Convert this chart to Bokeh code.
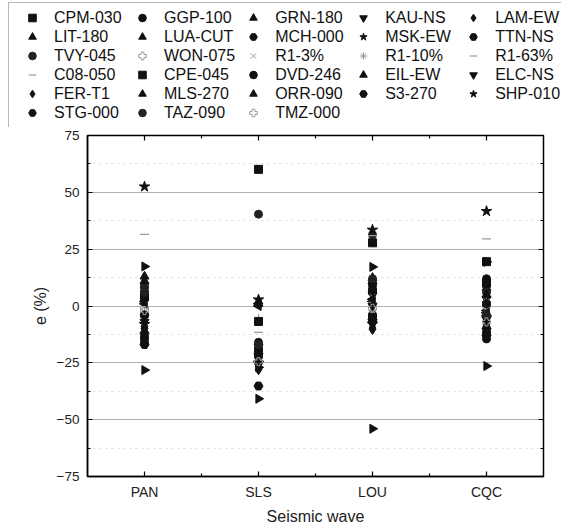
import math
from bokeh.plotting import figure
from bokeh.models import (Range1d, FixedTicker, LinearAxis, Legend, LegendItem,
                          CustomJSTickFormatter)
from bokeh.layouts import column
from bokeh.embed import file_html
from bokeh.resources import INLINE

# ---------------- data ----------------
waves = ["PAN", "SLS", "LOU", "CQC"]
wave_pos = [1, 2, 3, 4]

records = ["CPM-030", "GGP-100", "GRN-180", "KAU-NS", "LAM-EW",
           "LIT-180", "LUA-CUT", "MCH-000", "MSK-EW", "TTN-NS",
           "TVY-045", "WON-075", "R1-3%", "R1-10%", "R1-63%",
           "C08-050", "CPE-045", "DVD-246", "EIL-EW", "ELC-NS",
           "FER-T1", "MLS-270", "ORR-090", "S3-270", "SHP-010",
           "STG-000", "TAZ-090", "TMZ-000"]

# e (%) per record, one list per seismic wave (same order as records)
e_PAN = [5.0, 8.0, 13.0, -5.0, -10.0,
         2.0, 17.4, -14.0, -8.0, -12.0,
         9.0, -1.0, -3.0, 0.0, 31.5,
         -6.0, 4.0, -16.0, 11.0, -7.0,
         -9.0, 1.0, -28.2, -4.0, 52.5,
         -17.0, 6.0, -2.0]
e_SLS = [60.1, -20.0, 1.0, -18.0, -24.0,
         0.0, -40.8, -22.0, 2.8, -35.2,
         40.4, -18.5, -22.5, -20.5, -11.6,
         -5.5, -6.8, -16.0, 2.0, -26.0,
         -28.0, 1.0, -27.0, -19.0, -25.0,
         -21.0, -17.0, -24.5]
e_LOU = [27.8, 10.0, 12.4, 5.0, -3.0,
         2.0, 17.2, 6.0, -8.0, -6.0,
         31.3, 1.0, 4.0, -2.0, 31.0,
         8.0, -5.0, 9.0, 11.0, 0.0,
         -10.3, 3.0, -54.0, 7.0, 33.5,
         -7.0, 12.0, -1.0]
e_CQC = [19.5, 12.0, 8.0, 3.0, -8.0,
         -2.0, 19.4, -12.0, -5.0, -10.0,
         6.0, 0.0, 2.0, -1.0, 29.5,
         4.0, 10.0, -14.5, 5.0, -6.0,
         -9.0, -3.0, -26.4, 1.0, 41.7,
         -13.0, -4.0, -7.0]

# ---------------- styles ----------------
BLK = "#111111"
GRY = "#9a9a9a"
PI = math.pi
def S(marker, size=8, angle=0.0, color=BLK, filled=True, lw=1.0):
    return dict(marker=marker, size=size, angle=angle,
                fill_color=color if filled else None, line_color=color,
                line_width=lw)

styles = {
    "CPM-030": S("square", 8), "GGP-100": S("circle", 8),
    "GRN-180": S("triangle", 9), "KAU-NS": S("inverted_triangle", 9),
    "LAM-EW": S("diamond", 10), "LIT-180": S("triangle", 9, PI / 2),
    "LUA-CUT": S("triangle", 9, -PI / 2), "MCH-000": S("hex", 9, PI / 2),
    "MSK-EW": S("star", 11), "TTN-NS": S("hex", 9),
    "TVY-045": S("circle", 8, color="#222222"),
    "WON-075": S("plus", 8, color=GRY, filled=False),
    "R1-3%": S("x", 8, color=GRY, filled=False),
    "R1-10%": S("asterisk", 8, color=GRY, filled=False),
    "R1-63%": S("dash", 9, color=GRY, filled=False, lw=1.2),
    "C08-050": S("dash", 9, PI / 2, color=GRY, filled=False, lw=1.2),
    "CPE-045": S("square", 8), "DVD-246": S("circle", 8),
    "EIL-EW": S("triangle", 9), "ELC-NS": S("inverted_triangle", 9),
    "FER-T1": S("diamond", 10), "MLS-270": S("triangle", 9, PI / 2),
    "ORR-090": S("triangle", 9, -PI / 2), "S3-270": S("hex", 9, PI / 2),
    "SHP-010": S("star", 11), "STG-000": S("hex", 9),
    "TAZ-090": S("circle", 8, color="#222222"),
    "TMZ-000": S("plus", 8, color=GRY, filled=False),
}

FONT = "Liberation Sans"
PAGE_W = 561
LEG_FIG_H = 127

# ---------------- main figure ----------------
FRAME_TOP = 8          # below the legend strip
FRAME_LEFT = 87
FRAME_H = 341
p = figure(frame_width=456, frame_height=FRAME_H,
           x_range=Range1d(0.5, 4.5), y_range=Range1d(-75, 75),
           toolbar_location=None, output_backend="svg",
           min_border_left=FRAME_LEFT, min_border_right=PAGE_W - FRAME_LEFT - 456,
           min_border_top=FRAME_TOP, min_border_bottom=20)

xa = p.below[0]
ya = p.left[0]

yt = FixedTicker(ticks=[-75, -50, -25, 0, 25, 50, 75],
                 minor_ticks=[-62.5, -37.5, -12.5, 12.5, 37.5, 62.5])
xt = FixedTicker(ticks=wave_pos, minor_ticks=[1.5, 2.5, 3.5])

ya.ticker = yt
xa.ticker = xt
xa.major_label_overrides = {x: w for x, w in zip(wave_pos, waves)}

p.xgrid.visible = False
p.ygrid.ticker = yt
p.ygrid.grid_line_color = "#b0b0b0"
p.ygrid.grid_line_width = 1
p.ygrid.minor_grid_line_color = "#dcdcdc"
p.ygrid.minor_grid_line_dash = "dotted"

p.outline_line_color = "black"
p.outline_line_width = 1.5

blank = CustomJSTickFormatter(code="return ''")
ra = LinearAxis(ticker=yt, formatter=blank, axis_line_color=None)
ta = LinearAxis(ticker=xt, formatter=blank, axis_line_color=None)
p.add_layout(ra, "right")
p.add_layout(ta, "above")

for ax in (xa, ya, ra, ta):
    ax.major_tick_in = 5
    ax.major_tick_out = 0
    ax.minor_tick_in = 3
    ax.minor_tick_out = 0
    ax.major_tick_line_color = "black"
    ax.minor_tick_line_color = "black"
    ax.major_tick_line_width = 1.2
    ax.minor_tick_line_width = 1.2
for ax in (ra, ta):
    ax.major_label_standoff = 0
    ax.major_label_text_font_size = "1px"

for ax in (xa, ya):
    ax.axis_line_color = "black"
    ax.axis_line_width = 1.5
    ax.major_label_text_font = FONT
    ax.major_label_text_color = "#222222"
    ax.axis_label_text_font = FONT
    ax.axis_label_text_font_style = "normal"
    ax.axis_label_text_color = "#222222"
    ax.axis_label_text_font_size = "16px"

ya.axis_label = "e (%)"
ya.major_label_text_font_size = "13.5px"
ya.major_label_standoff = 8
ya.axis_label_standoff = 5
xa.axis_label = "Seismic wave"
xa.major_label_text_font_size = "14px"
xa.major_label_standoff = 7
xa.axis_label_standoff = 5

for i, name in enumerate(records):
    ys = [e_PAN[i], e_SLS[i], e_LOU[i], e_CQC[i]]
    p.scatter(x=wave_pos, y=ys, **styles[name])

# ---------------- legend strip (separate figure, data kept out of view) ----------------
lf = figure(width=PAGE_W, height=LEG_FIG_H,
            x_range=Range1d(0.5, 4.5), y_range=Range1d(1000, 1001),
            toolbar_location=None, output_backend="svg",
            x_axis_location=None, y_axis_location=None,
            min_border_left=0, min_border_right=0, min_border_top=0, min_border_bottom=0)
lf.grid.visible = False
lf.outline_line_color = None

leg_items = []
for i, name in enumerate(records):
    ys = [e_PAN[i], e_SLS[i], e_LOU[i], e_CQC[i]]
    r = lf.scatter(x=wave_pos, y=ys, **styles[name])
    leg_items.append(LegendItem(label=name, renderers=[r]))

LEG_LEFT, LEG_TOP, LEG_PAD, ROW_H, NROWS = 8, 4, 5, 19, 6
leg_h = 2 * LEG_PAD + NROWS * ROW_H
legend = Legend(items=leg_items, orientation="horizontal", ncols=5,
                location=(LEG_LEFT, LEG_FIG_H - (LEG_TOP + leg_h)),
                glyph_width=36, glyph_height=ROW_H, label_height=ROW_H, label_width=70,
                label_standoff=4, spacing=0, padding=LEG_PAD, margin=0,
                border_line_color="#707070", border_line_width=1,
                background_fill_color="white", background_fill_alpha=1,
                label_text_font=FONT, label_text_font_size="16px",
                label_text_color="#111111")
lf.add_layout(legend, "center")

for fig in (lf, p):
    try:
        fig.frame_align = False
    except Exception:
        pass

layout = column(lf, p, spacing=0)
open("out.html", "w").write(file_html(layout, INLINE))
